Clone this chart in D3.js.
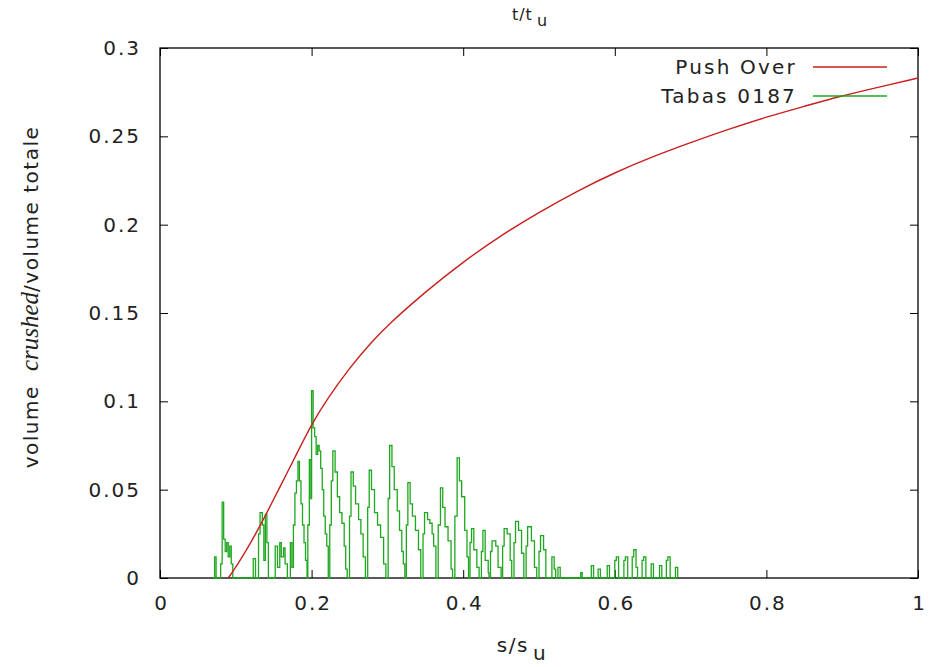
<!DOCTYPE html>
<html>
<head>
<meta charset="utf-8">
<script src="https://cdn.jsdelivr.net/npm/d3@7"></script>
<style>
  body { margin: 0; background: #fff; }
  text { font-family: "DejaVu Sans", sans-serif; fill: #222; }
</style>
</head>
<body>
<svg class="main" width="932" height="667"></svg>
<script>
// s/s_u values and volume fractions
const pushS = [0.09, 0.10, 0.12, 0.14, 0.16, 0.18, 0.20, 0.22, 0.25, 0.28, 0.30, 0.35,
  0.40, 0.45, 0.50, 0.55, 0.60, 0.65, 0.70, 0.75, 0.80, 0.85, 0.90, 0.95, 1.00];
const pushV = [0, 0.006, 0.02, 0.036, 0.053, 0.07, 0.087, 0.101, 0.119, 0.134, 0.143, 0.162,
  0.179, 0.194, 0.207, 0.219, 0.2295, 0.2385, 0.2465, 0.254, 0.261, 0.267, 0.273, 0.278, 0.283];

const tabasS = [
  0.070, 0.072, 0.074, 0.080, 0.082, 0.084, 0.086, 0.088, 0.090, 0.092, 0.094, 0.096,
  0.122, 0.123, 0.126, 0.130, 0.132, 0.135, 0.137, 0.139, 0.141, 0.143,
  0.150, 0.152, 0.155, 0.158, 0.160, 0.163, 0.165, 0.168,
  0.172, 0.174, 0.176, 0.178, 0.180, 0.182, 0.184, 0.186, 0.188, 0.190, 0.192, 0.194,
  0.195, 0.197, 0.199, 0.200, 0.202, 0.204, 0.206, 0.208, 0.210, 0.212, 0.214, 0.216, 0.218, 0.220, 0.222,
  0.224, 0.226, 0.228, 0.231, 0.234, 0.237, 0.240, 0.243, 0.245, 0.247,
  0.250, 0.252, 0.255, 0.258, 0.262, 0.265, 0.268, 0.271,
  0.274, 0.276, 0.279, 0.283, 0.287, 0.291, 0.295, 0.298,
  0.301, 0.303, 0.306, 0.309, 0.313, 0.316, 0.319, 0.321, 0.323,
  0.325, 0.327, 0.330, 0.333, 0.337, 0.341, 0.344,
  0.347, 0.349, 0.353, 0.356, 0.359, 0.361, 0.364,
  0.367, 0.370, 0.373, 0.376, 0.380, 0.384, 0.386,
  0.389, 0.392, 0.395, 0.398, 0.402, 0.405, 0.407,
  0.409, 0.411, 0.414, 0.418, 0.421,
  0.424, 0.426, 0.429, 0.433, 0.434,
  0.436, 0.438, 0.443, 0.446, 0.450,
  0.452, 0.454, 0.458, 0.462, 0.464,
  0.467, 0.469, 0.473, 0.477, 0.480,
  0.483, 0.485, 0.490, 0.494, 0.497,
  0.500, 0.502, 0.506, 0.509,
  0.515, 0.517, 0.520, 0.522, 0.525, 0.528,
  0.555, 0.557, 0.569, 0.572, 0.578, 0.581, 0.590, 0.593,
  0.600, 0.602, 0.605, 0.612, 0.614, 0.617,
  0.623, 0.625, 0.628, 0.630, 0.636, 0.638, 0.641,
  0.648, 0.651, 0.659, 0.662, 0.668, 0.670, 0.673, 0.680, 0.683
];
const tabasV = [
  0, 0.012, 0, 0.008, 0.043, 0.022, 0.015, 0.02, 0.012, 0.018, 0.008, 0,
  0, 0.011, 0, 0.025, 0.037, 0.03, 0.01, 0.036, 0.02, 0,
  0, 0.018, 0.006, 0.02, 0.012, 0.017, 0.008, 0,
  0.02, 0.006, 0.03, 0.048, 0.055, 0.066, 0.055, 0.042, 0.03, 0.02, 0.01, 0,
  0.03, 0.067, 0.045, 0.106, 0.085, 0.08, 0.07, 0.075, 0.072, 0.062, 0.05, 0.035, 0.025, 0.018, 0,
  0.03, 0.055, 0.072, 0.06, 0.046, 0.037, 0.031, 0.018, 0.005, 0,
  0.035, 0.06, 0.052, 0.042, 0.033, 0.025, 0.012, 0,
  0.04, 0.061, 0.05, 0.037, 0.03, 0.023, 0.008, 0,
  0.045, 0.075, 0.063, 0.05, 0.038, 0.027, 0.015, 0.008, 0,
  0.03, 0.054, 0.042, 0.035, 0.027, 0.016, 0,
  0.025, 0.037, 0.033, 0.031, 0.025, 0.018, 0,
  0.03, 0.051, 0.04, 0.029, 0.021, 0.005, 0,
  0.035, 0.068, 0.055, 0.046, 0.027, 0.012, 0,
  0.02, 0.028, 0.016, 0.006, 0,
  0.015, 0.027, 0.01, 0.003, 0,
  0.015, 0.021, 0.018, 0.006, 0,
  0.018, 0.028, 0.025, 0.01, 0,
  0.02, 0.032, 0.027, 0.014, 0,
  0.018, 0.029, 0.021, 0.006, 0,
  0.015, 0.024, 0.016, 0,
  0, 0.012, 0.005, 0, 0.006, 0,
  0.003, 0, 0.007, 0, 0.005, 0, 0.007, 0,
  0.01, 0.012, 0, 0.01, 0.012, 0,
  0.012, 0.016, 0.006, 0, 0.01, 0.012, 0,
  0.008, 0, 0.007, 0, 0.01, 0.012, 0, 0.006, 0
];

const xTicks = [0, 0.2, 0.4, 0.6, 0.8, 1];
const yTicks = [0, 0.05, 0.1, 0.15, 0.2, 0.25, 0.3];
const seriesNames = ["Push Over", "Tabas 0187"];
const colors = ["#c8201e", "#1ea81e"];

const margin = { left: 160, top: 48, right: 14, bottom: 89 };
const svg = d3.select(".main");
const width = 932 - margin.left - margin.right;
const height = 667 - margin.top - margin.bottom;

const x = d3.scaleLinear().domain([0, 1]).range([0, width]);
const y = d3.scaleLinear().domain([0, 0.3]).range([height, 0]);

const plot = svg.append("g").attr("transform", `translate(${margin.left},${margin.top})`);

const fmt = d => (d === 0 ? "0" : d === 1 ? "1" : String(+d.toFixed(2)));

function styleAxis(g) {
  g.select(".domain").remove();
  g.selectAll(".tick line").attr("stroke", "#000").attr("stroke-width", 1);
  g.selectAll(".tick text")
    .style("font-family", "'DejaVu Sans', sans-serif")
    .style("font-size", "20px")
    .style("letter-spacing", "2px")
    .attr("fill", "#222");
}

// inward ticks on all four sides
plot.append("g")
  .attr("transform", `translate(0,${height})`)
  .call(d3.axisBottom(x).tickValues(xTicks).tickFormat(fmt).tickSizeInner(-8).tickPadding(18))
  .call(styleAxis)
  .selectAll(".tick text").attr("dx", 1);
plot.append("g")
  .call(d3.axisTop(x).tickValues(xTicks).tickFormat("").tickSizeInner(-8))
  .call(styleAxis);
plot.append("g")
  .call(d3.axisLeft(y).tickValues(yTicks).tickFormat(fmt).tickSizeInner(-8).tickPadding(19))
  .call(styleAxis);
plot.append("g")
  .attr("transform", `translate(${width},0)`)
  .call(d3.axisRight(y).tickValues(yTicks).tickFormat("").tickSizeInner(-8))
  .call(styleAxis);

plot.append("rect")
  .attr("width", width)
  .attr("height", height)
  .attr("fill", "none")
  .attr("stroke", "#000")
  .attr("stroke-width", 1.3);

// series
const pushData = pushS.map((s, i) => [s, pushV[i]]);
const tabasData = tabasS.map((s, i) => [s, tabasV[i]]);

plot.append("path")
  .datum(tabasData)
  .attr("fill", "none")
  .attr("stroke", colors[1])
  .attr("stroke-width", 1.3)
  .attr("d", d3.line().x(d => x(d[0])).y(d => y(d[1])).curve(d3.curveStepAfter));

plot.append("path")
  .datum(pushData)
  .attr("fill", "none")
  .attr("stroke", colors[0])
  .attr("stroke-width", 1.4)
  .attr("d", d3.line().x(d => x(d[0])).y(d => y(d[1])).curve(d3.curveBasis));

// legend
const legend = plot.append("g").attr("transform", `translate(${width - 121},19)`);
seriesNames.forEach((name, i) => {
  const row = legend.append("g").attr("transform", `translate(0,${i * 29})`);
  row.append("text")
    .attr("text-anchor", "end")
    .attr("dy", "0.35em")
    .style("font-size", "20px")
    .style("letter-spacing", "2.2px")
    .text(name);
  row.append("line")
    .attr("x1", 16)
    .attr("x2", 90)
    .attr("stroke", colors[i])
    .attr("stroke-width", 1.4);
});

// axis labels
const xLabel = svg.append("text")
  .attr("x", 522)
  .attr("y", 652)
  .attr("text-anchor", "middle")
  .style("font-size", "20px")
  .style("letter-spacing", "1.5px");
xLabel.append("tspan").text("s/s");
xLabel.append("tspan").attr("dx", 4).attr("dy", 8).text("u");

const x2Label = svg.append("text")
  .attr("x", 530)
  .attr("y", 20)
  .attr("text-anchor", "middle")
  .style("font-size", "16px")
  .style("letter-spacing", "1px");
x2Label.append("tspan").text("t/t");
x2Label.append("tspan").attr("dx", 4).attr("dy", 6).text("u");

const yLabel = svg.append("text")
  .attr("transform", "translate(38,297) rotate(-90)")
  .attr("text-anchor", "middle")
  .style("font-size", "20px")
  .style("letter-spacing", "1.5px");
yLabel.append("tspan").text("volume ");
yLabel.append("tspan")
  .style("font-family", "'Liberation Serif', 'DejaVu Serif', serif")
  .style("font-style", "italic")
  .style("font-size", "25px")
  .style("letter-spacing", "0px")
  .text("\u00a0crushed");
yLabel.append("tspan").text("/volume totale");
</script>
</body>
</html>
